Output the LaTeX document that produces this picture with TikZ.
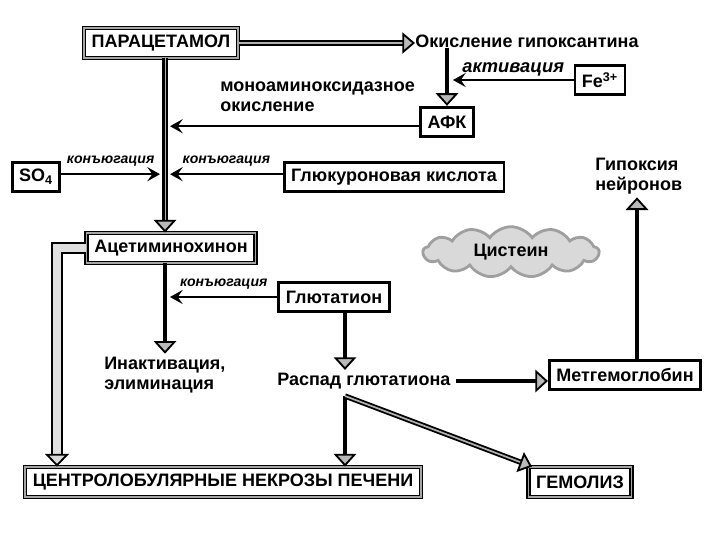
\documentclass[tikz,border=0pt]{standalone}
\usepackage{fontspec}
\setmainfont{Liberation Sans}
\usetikzlibrary{arrows.meta,positioning,shapes.symbols}

\tikzset{
  box/.style={draw, line width=2pt, fill=white, inner xsep=5pt, minimum height=21pt,
    font=\bfseries\fontsize{12.8}{14}\selectfont},
  dbox/.style={draw, line width=1pt, double=gray!70, double distance=1.1pt, fill=white,
    inner xsep=5.5pt, minimum height=21pt, font=\bfseries\fontsize{12.8}{14}\selectfont},
  txt/.style={inner sep=0pt, align=left, font=\bfseries\fontsize{12.8}{14.5}\selectfont},
  conj/.style={inner sep=0pt, font=\bfseries\itshape\fontsize{10}{12}\selectfont},
  thinarr/.style={line width=1.5pt, -{Stealth[length=9pt, width=10pt, inset=3.5pt]}},
  thickarr/.style={line width=3.5pt, -{Triangle[length=9pt, width=16pt, fill=gray!55, line width'=1.3pt]}},
  dline/.style={line width=1.3pt, double=gray!60, double distance=1.2pt,
    -{Triangle[length=9pt, width=15pt, fill=gray!55, line width'=1.3pt]}},
  gline/.style={line width=1.5pt, double=gray!25, double distance=5pt,
    -{Triangle[length=9pt, width=17pt, fill=gray!30, line width'=1.3pt]}},
}

\begin{document}
\begin{tikzpicture}[x=0.025cm, y=-0.025cm]
  \useasboundingbox (0,0) rectangle (720,540);

  % nodes
  \node[dbox] (par) at (161,43) {ПАРАЦЕТАМОЛ};
  \node[txt, anchor=west] (oks) at (415,41) {Окисление гипоксантина};
  \node[box] (afk) at (447,122) {АФК};
  \node[box] (fe) at (600,80) {Fe\textsuperscript{3+}};
  \node[txt, anchor=west] (mao) at (220,97) {моноаминоксидазное\\окисление};
  \node[box] (so) at (36,177) {SO\textsubscript{4}};
  \node[box] (gluk) at (394,177) {Глюкуроновая кислота};
  \node[dbox] (acet) at (171,248) {Ацетиминохинон};
  \node[box] (glut) at (334,297) {Глютатион};
  \node[txt, anchor=west] (inakt) at (104,375) {Инактивация,\\элиминация};
  \node[txt, anchor=west] (raspad) at (277,381) {Распад глютатиона};
  \node[box] (met) at (625,375) {Метгемоглобин};
  \node[txt, anchor=west] (gip) at (595,176) {Гипоксия\\нейронов};
  \node[cloud, cloud puffs=13, cloud puff arc=110, aspect=3.5, draw=gray!75, line width=2pt,
    fill=gray!30, minimum width=125pt, minimum height=36pt, inner sep=0pt,
    font=\bfseries\fontsize{12.8}{14}\selectfont] (cis) at (511,252) {Цистеин};
  \node[dbox] (nekr) at (223,482) {ЦЕНТРОЛОБУЛЯРНЫЕ НЕКРОЗЫ ПЕЧЕНИ};
  \node[dbox] (gem) at (580,482) {ГЕМОЛИЗ};

  % points on the lines
  \coordinate (mx) at (165,0);
  \coordinate (jl) at (160,0);
  \coordinate (jr) at (170,0);
  \coordinate (ja) at (453,0);
  \coordinate (rx) at (345,0);
  \coordinate (gx) at (637,0);
  \coordinate (lx) at (57,0);
  \coordinate (sp) at (345,396);

  % connectors
  \draw[dline] (par.east) -- (par.east -| oks.west);
  \draw[thickarr] (oks.south -| afk) -- (afk.north);
  \draw[thinarr] (fe.west) -- (fe.west -| ja)
    node[conj, midway, above=2pt, font=\bfseries\itshape\fontsize{13}{14}\selectfont] {активация};
  \draw[line width=2pt, double=gray!60, double distance=0.6pt] (par.south -| mx) -- ([yshift=6pt]acet.north -| mx);
  \draw[thickarr, line width=0.1pt] ([yshift=7pt]acet.north -| mx) -- (acet.north -| mx);
  \draw[thinarr] ([yshift=-3pt]afk.west) -- ([yshift=-3pt]afk.west -| jr);
  \draw[thinarr] ([yshift=2pt]so.east) -- ([yshift=2pt]so.east -| jl)
    node[conj, midway, above=5pt] {конъюгация};
  \draw[thinarr] ([yshift=2pt]gluk.west) -- ([yshift=2pt]gluk.west -| jr)
    node[conj, midway, above=5pt] {конъюгация};
  \draw[thickarr] (acet.south -| mx) -- ([yshift=2pt]inakt.north -| mx);
  \draw[thinarr] (glut.west) -- (glut.west -| jr)
    node[conj, midway, above=5pt] {конъюгация};
  \draw[thickarr] (glut.south -| rx) -- ([yshift=2pt]raspad.north -| rx);
  \draw[thickarr] ([xshift=4pt]raspad.east) -- (raspad.east -| met.west);
  \draw[thickarr] (met.north -| gx) -- ([yshift=-2pt]gip.south -| gx);
  \draw[gline] (acet.west) -| (nekr.north -| lx);
  \draw[thickarr] (sp) -- (nekr.north -| sp);
  \draw[dline] (sp) -- ([xshift=3pt]gem.north west);
\end{tikzpicture}
\end{document}
